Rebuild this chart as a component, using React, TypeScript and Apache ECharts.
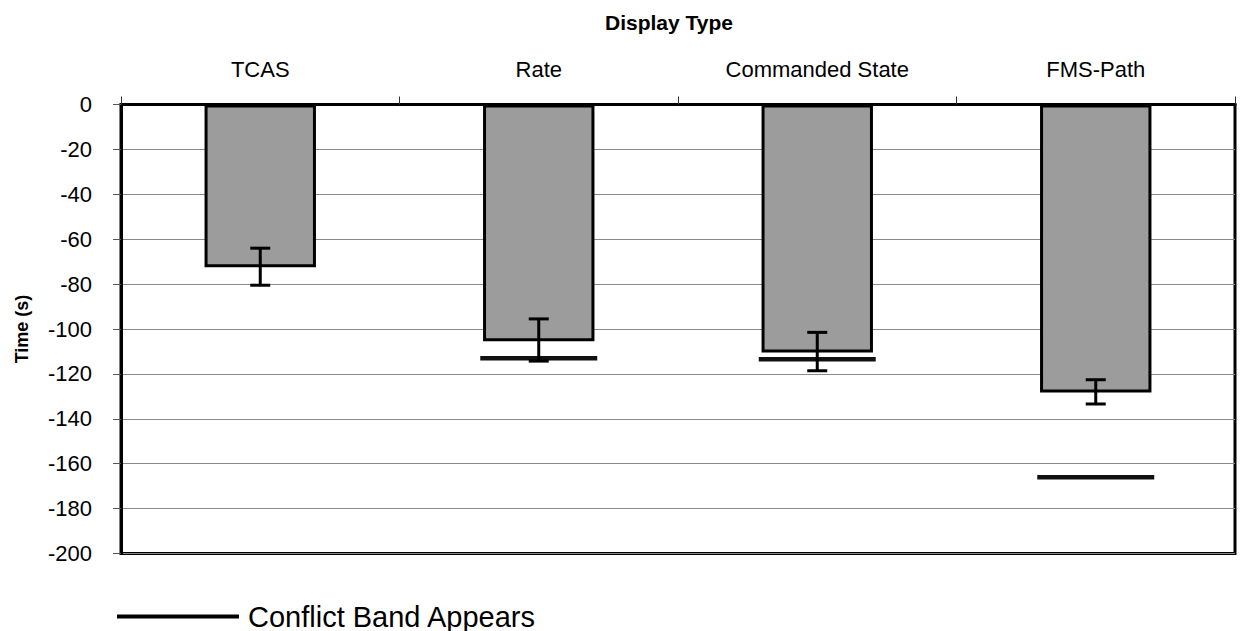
import React, { useEffect, useRef } from "react";
import * as echarts from "echarts";

const categories = ["TCAS", "Rate", "Commanded State", "FMS-Path"];
const meanTime = [-72.5, -105.5, -110.5, -128.3];
const errUpper = [-64, -95.5, -101.5, -122.6];
const errLower = [-80.5, -114.3, -118.6, -133.4];
const conflictBand: (number | null)[] = [null, -113, -113.5, -166];
const yMin = -200;
const yMax = 0;
const yInterval = 20;

const FONT = "'Liberation Sans', Arial, Helvetica, sans-serif";

export default function App() {
  const ref = useRef<HTMLDivElement>(null);
  useEffect(() => {
    if (!ref.current) return;
    const chart = echarts.init(ref.current, null, { renderer: "svg" });
    const errData = categories.map((_, i) => [i, errUpper[i], errLower[i]]);
    const bandData = conflictBand
      .map((v, i) => (v == null ? null : [i, v]))
      .filter((d) => d != null);
    chart.setOption({
      animation: false,
      backgroundColor: "#fff",
      textStyle: { fontFamily: FONT, color: "#000" },
      grid: {
        left: 121,
        right: 5,
        top: 104.5,
        bottom: 77.5,
        show: true,
        borderColor: "#000",
        borderWidth: 3,
        backgroundColor: "transparent",
      },
      graphic: [
        {
          type: "text",
          x: 669,
          y: 22,
          style: {
            text: "Display Type",
            fontFamily: FONT,
            fontWeight: "bold",
            fontSize: 21,
            fill: "#000",
            textAlign: "center",
            textVerticalAlign: "middle",
          },
        },
      ],
      legend: {
        data: [{ name: "Conflict Band Appears", icon: "rect" }],
        left: 112,
        top: 597,
        itemWidth: 122,
        itemHeight: 4,
        itemGap: 10,
        textStyle: { fontFamily: FONT, fontSize: 29, color: "#000", padding: [0, 0, 0, 4] },
      },
      xAxis: {
        type: "category",
        position: "top",
        data: categories,
        boundaryGap: true,
        axisLine: { show: true, lineStyle: { color: "#000", width: 3 } },
        axisTick: { show: true, alignWithLabel: false, length: 8, lineStyle: { color: "#333", width: 1 } },
        axisLabel: { fontFamily: FONT, fontSize: 22, color: "#000", margin: 24 },
        splitLine: { show: false },
      },
      yAxis: {
        type: "value",
        min: yMin,
        max: yMax,
        interval: yInterval,
        name: "Time (s)",
        nameLocation: "middle",
        nameGap: 90,
        nameTextStyle: { fontFamily: FONT, fontWeight: "bold", fontSize: 18, color: "#000" },
        axisLine: { show: true, lineStyle: { color: "#000", width: 3 } },
        axisTick: { show: true, length: 8, lineStyle: { color: "#555", width: 1 } },
        axisLabel: { fontFamily: FONT, fontSize: 22, color: "#000", margin: 29 },
        splitLine: { show: true, lineStyle: { color: "#8a8a8a", width: 1 } },
      },
      series: [
        {
          type: "bar",
          name: "Time",
          data: meanTime,
          barWidth: "40%",
          itemStyle: { color: "#9c9c9c", borderColor: "#000", borderWidth: 3 },
          z: 2,
        },
        {
          type: "custom",
          name: "Conflict Band Appears",
          data: bandData,
          itemStyle: { color: "#000" },
          z: 3,
          renderItem: (params: any, api: any) => {
            const p = api.coord([api.value(0), api.value(1)]);
            const half = api.size([1, 0])[0] * 0.21;
            return {
              type: "line",
              shape: { x1: p[0] - half, y1: p[1], x2: p[0] + half, y2: p[1] },
              style: { stroke: "#111", lineWidth: 4.5 },
            };
          },
        },
        {
          type: "custom",
          name: "Error",
          data: errData,
          z: 4,
          renderItem: (params: any, api: any) => {
            const top = api.coord([api.value(0), api.value(1)]);
            const bot = api.coord([api.value(0), api.value(2)]);
            const cap = 10;
            const st = { stroke: "#000", lineWidth: 3 };
            return {
              type: "group",
              children: [
                { type: "line", shape: { x1: top[0], y1: top[1], x2: bot[0], y2: bot[1] }, style: st },
                { type: "line", shape: { x1: top[0] - cap, y1: top[1], x2: top[0] + cap, y2: top[1] }, style: st },
                { type: "line", shape: { x1: bot[0] - cap, y1: bot[1], x2: bot[0] + cap, y2: bot[1] }, style: st },
              ],
            };
          },
        },
      ],
    });
    return () => chart.dispose();
  }, []);
  return (
    <div
      ref={ref}
      style={{ position: "absolute", left: 0, top: 0, width: 1240, height: 631 }}
    />
  );
}
